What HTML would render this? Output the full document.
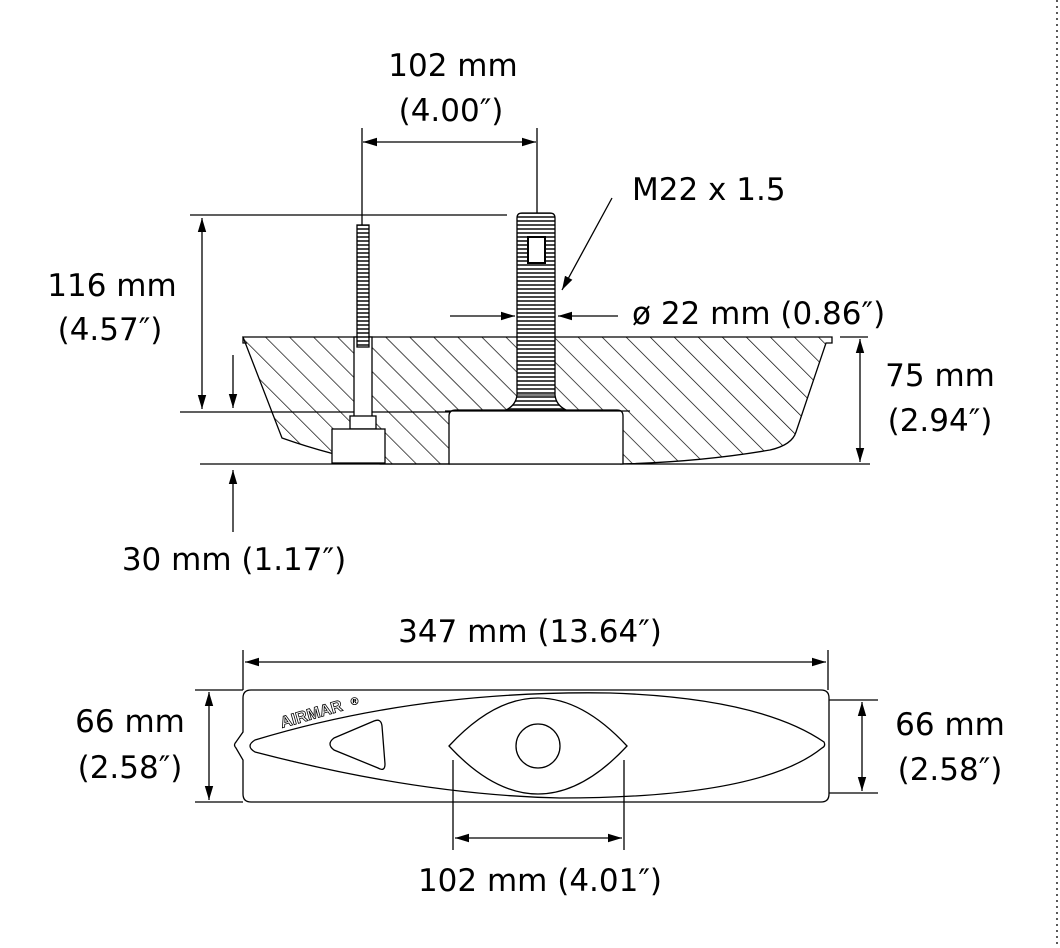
<!DOCTYPE html>
<html><head><meta charset="utf-8"><style>
html,body{margin:0;padding:0;background:#fff}
svg{display:block}
text{font-family:"DejaVu Sans","Liberation Sans",sans-serif;font-size:31px;fill:#000}
</style></head><body>
<svg width="1060" height="948" viewBox="0 0 1060 948" xmlns="http://www.w3.org/2000/svg">
<defs>
<marker id="a" viewBox="0 0 10 10" refX="10" refY="5" markerWidth="14" markerHeight="14" markerUnits="userSpaceOnUse" orient="auto-start-reverse"><path d="M0,2 L10,5 L0,8 z" fill="#000"/></marker>
<pattern id="h" width="17" height="17" patternUnits="userSpaceOnUse" patternTransform="rotate(-45)"><line x1="0" y1="0" x2="0" y2="17" stroke="#000" stroke-width="1.4"/></pattern>
<pattern id="th" width="4" height="4" patternUnits="userSpaceOnUse"><rect width="4" height="4" fill="#fff"/><line x1="0" y1="1" x2="4" y2="1" stroke="#333" stroke-width="1.8"/></pattern>
</defs>
<g stroke="#000" stroke-width="1.3" fill="none">
<line x1="362" y1="128" x2="362" y2="226"/>
<line x1="537" y1="128" x2="537" y2="213"/>
<line x1="363" y1="142" x2="536" y2="142" marker-start="url(#a)" marker-end="url(#a)"/>
<line x1="190" y1="215" x2="507" y2="215"/>
<line x1="202" y1="218" x2="202" y2="409" marker-start="url(#a)" marker-end="url(#a)"/>
<line x1="233" y1="355" x2="233" y2="408" marker-end="url(#a)"/>
<line x1="180" y1="412" x2="450" y2="412"/>
<line x1="200" y1="464" x2="450" y2="464"/>
<line x1="620" y1="464" x2="870" y2="464"/>
<line x1="233" y1="532" x2="233" y2="470" marker-end="url(#a)"/>
<path d="M243,337 L832,337 L832,343 L826,343 L796,432 Q792,445 770,450 Q700,462 620,464 L380,464 Q330,455 282,438 Z" fill="url(#h)"/>
<path d="M243,337 L243,343 L247,343" />
<path d="M449,464 L449,416 Q449,410 456,410 L617,410 Q623,410 623,416 L623,464 Z" fill="#fff"/>
<path d="M445,411 L630,411" />
<path d="M517,395 L517,218 Q517,213 522,213 L550,213 Q555,213 555,218 L555,395 Q556,405 566,410 L506,410 Q516,405 517,395 Z" fill="url(#th)"/>
<rect x="528" y="237" width="17" height="26" fill="#fff" stroke-width="2"/>
<line x1="517" y1="395" x2="555" y2="395" stroke-width="1"/>
<rect x="354" y="337" width="18" height="80" fill="#fff"/>
<rect x="357" y="225" width="12" height="122" fill="url(#th)"/>
<rect x="350" y="416" width="26" height="13" fill="#fff"/>
<rect x="332" y="429" width="53" height="34" fill="#fff"/>
<line x1="450" y1="316" x2="515" y2="316" marker-end="url(#a)"/>
<line x1="618" y1="316" x2="558" y2="316" marker-end="url(#a)"/>
<line x1="612" y1="198" x2="562" y2="290" marker-end="url(#a)"/>
<line x1="840" y1="337" x2="868" y2="337"/>
<line x1="860" y1="339" x2="860" y2="462" marker-start="url(#a)" marker-end="url(#a)"/>
<line x1="243" y1="650" x2="243" y2="690"/>
<line x1="828" y1="650" x2="828" y2="690"/>
<line x1="245" y1="662" x2="826" y2="662" marker-start="url(#a)" marker-end="url(#a)"/>
<path d="M251,690 L821,690 Q829,690 829,698 L829,794 Q829,802 821,802 L251,802 Q243,802 243,794 L243,760 L236,748 Q233,745 236,742 L243,732 L243,698 Q243,690 251,690 Z" fill="#fff"/>
<line x1="195" y1="690" x2="243" y2="690"/>
<line x1="195" y1="802" x2="243" y2="802"/>
<line x1="209" y1="692" x2="209" y2="800" marker-start="url(#a)" marker-end="url(#a)"/>
<line x1="829" y1="700" x2="878" y2="700"/>
<line x1="829" y1="793" x2="878" y2="793"/>
<line x1="862" y1="702" x2="862" y2="791" marker-start="url(#a)" marker-end="url(#a)"/>
<path d="M255,740 Q420,690 610,693 Q760,698 824,742 Q826,746 822,748 Q760,798 560,798 Q420,795 255,752 Q245,746 255,740 Z"/>
<path d="M449,746 Q538,650 627,746 Q538,842 449,746 Z" fill="#fff"/>
<circle cx="538" cy="746" r="22"/>
<path d="M334,738 L374,721 Q381,718 382,726 L385,764 Q385,772 378,768 L334,750 Q326,744 334,738 Z"/>
<line x1="453" y1="760" x2="453" y2="850"/>
<line x1="624" y1="760" x2="624" y2="850"/>
<line x1="455" y1="838" x2="622" y2="838" marker-start="url(#a)" marker-end="url(#a)"/>
<line x1="1057" y1="0" x2="1057" y2="948" stroke-dasharray="2 4"/>
</g>
<text x="282" y="728" transform="rotate(-16 282 728)" style="font-family:'Liberation Sans',sans-serif;font-size:16px;font-weight:bold;fill:#fff;stroke:#000;stroke-width:0.8">AIRMAR</text>
<text x="349" y="705" style="font-size:11px;font-weight:bold">®</text>
<g text-anchor="middle">
<text x="453" y="76">102 mm</text>
<text x="451" y="121">(4.00″)</text>
<text x="112" y="296">116 mm</text>
<text x="110" y="340">(4.57″)</text>
<text x="940" y="386">75 mm</text>
<text x="940" y="431">(2.94″)</text>
<text x="234" y="570">30 mm (1.17″)</text>
<text x="530" y="642">347 mm (13.64″)</text>
<text x="130" y="732">66 mm</text>
<text x="130" y="778">(2.58″)</text>
<text x="950" y="735">66 mm</text>
<text x="950" y="780">(2.58″)</text>
<text x="540" y="891">102 mm (4.01″)</text>
</g>
<text x="632" y="200">M22 x 1.5</text>
<text x="632" y="324">ø 22 mm (0.86″)</text>
</svg>
</body></html>
